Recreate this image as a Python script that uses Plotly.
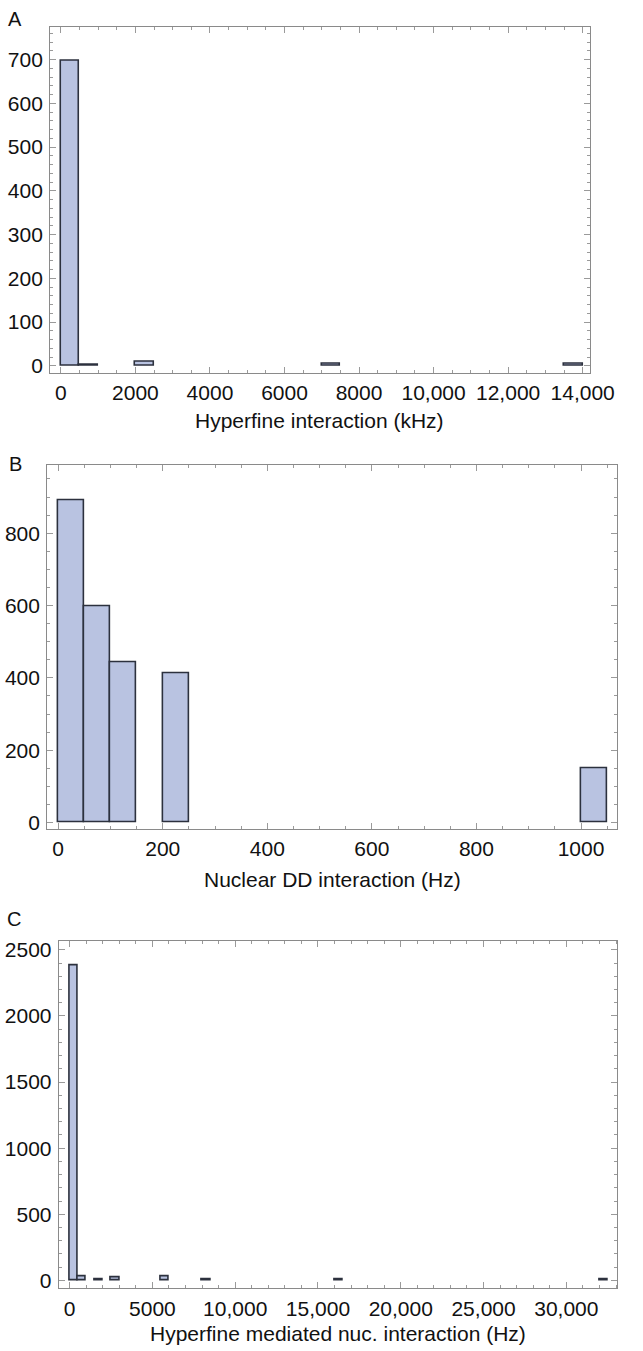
import plotly.graph_objects as go

W, H = 643, 1351

# Panel A: hyperfine interaction (kHz), 500 kHz bins
hf_bin_width = 500
hf_bin_start = [0, 500, 2000, 7000, 13500]
hf_counts = [698, 2, 8, 4, 4]
hf_xticks = [0, 2000, 4000, 6000, 8000, 10000, 12000, 14000]
hf_xticklabels = ["0", "2000", "4000", "6000", "8000", "10,000", "12,000", "14,000"]
hf_yticks = [0, 100, 200, 300, 400, 500, 600, 700]

# Panel B: nuclear dipole-dipole interaction (Hz), 50 Hz bins
dd_bin_width = 50
dd_bin_start = [0, 50, 100, 200, 1000]
dd_counts = [890, 599, 444, 413, 150]
dd_xticks = [0, 200, 400, 600, 800, 1000]
dd_yticks = [0, 200, 400, 600, 800]

# Panel C: hyperfine mediated nuclear interaction (Hz), 500 Hz bins
hm_bin_width = 500
hm_bin_start = [0, 500, 1500, 2500, 5500, 8000, 16000, 32000]
hm_counts = [2380, 30, 7, 25, 32, 7, 10, 8]
hm_xticks = [0, 5000, 10000, 15000, 20000, 25000, 30000]
hm_xticklabels = ["0", "5000", "10,000", "15,000", "20,000", "25,000", "30,000"]
hm_yticks = [0, 500, 1000, 1500, 2000, 2500]

FONT = "Liberation Sans, Arial, sans-serif"
FILL = "#b9c3e1"
EDGE = "#2c313e"
FRAME = "#8a8a8a"
TICK = "#9a9a9a"
TEXT = "#111111"
FS = 21


def px_x(p):
    return p / W


def px_y(p):
    return 1 - p / H


def make_axis(domain, rng, tickvals, ticktext, minor_dtick, standoff):
    return dict(
        domain=domain, range=rng,
        tickmode="array", tickvals=tickvals, ticktext=ticktext,
        showgrid=False, zeroline=False,
        showline=True, linecolor=FRAME, linewidth=1, mirror="ticks",
        ticks="inside", ticklen=6, tickwidth=1, tickcolor=TICK,
        minor=dict(ticks="inside", ticklen=3, tickwidth=1, tickcolor=TICK,
                   tickmode="linear", tick0=0, dtick=minor_dtick, showgrid=False),
        tickfont=dict(family=FONT, size=FS, color=TEXT),
        ticklabelstandoff=standoff,
        fixedrange=True,
    )


def centers(starts, w):
    return [s + w / 2 for s in starts]


# pixel boxes of the three frames: (left, right, top, bottom)
boxes = {
    "A": (52, 613, 24, 372),
    "B": (49, 641, 465, 831),
    "C": (61, 641, 944, 1293),
}

fig = go.Figure()

panels = [
    ("", hf_bin_start, hf_counts, hf_bin_width),
    ("2", dd_bin_start, dd_counts, dd_bin_width),
    ("3", hm_bin_start, hm_counts, hm_bin_width),
]
for suffix, starts, counts, w in panels:
    fig.add_trace(go.Bar(
        x=centers(starts, w), y=counts, width=w,
        marker=dict(color=FILL, line=dict(color=EDGE, width=1.6)),
        xaxis="x" + suffix, yaxis="y" + suffix, showlegend=False,
        hoverinfo="x+y",
    ))


def dom_x(key):
    l, r, t, b = boxes[key]
    return [px_x(l), px_x(r)]


def dom_y(key):
    l, r, t, b = boxes[key]
    return [px_y(b), px_y(t)]


layout = dict(
    width=W, height=H, margin=dict(l=0, r=0, t=0, b=0),
    paper_bgcolor="white", plot_bgcolor="white",
    font=dict(family=FONT, size=FS, color=TEXT),
    bargap=0,
)

XS, YS = 1, 2

layout["xaxis"] = make_axis(dom_x("A"), [-290, 14200], hf_xticks, hf_xticklabels, 500, XS)
layout["yaxis"] = make_axis(dom_y("A"), [-16, 775], hf_yticks, [str(v) for v in hf_yticks], 20, YS)
layout["xaxis"]["anchor"] = "y"
layout["yaxis"]["anchor"] = "x"

layout["xaxis2"] = make_axis(dom_x("B"), [-21, 1069], dd_xticks, [str(v) for v in dd_xticks], 50, XS)
layout["yaxis2"] = make_axis(dom_y("B"), [-18, 988], dd_yticks, [str(v) for v in dd_yticks], 50, YS)
layout["xaxis2"]["anchor"] = "y2"
layout["yaxis2"]["anchor"] = "x2"

layout["xaxis3"] = make_axis(dom_x("C"), [-657, 33064], hm_xticks, hm_xticklabels, 1000, XS)
layout["yaxis3"] = make_axis(dom_y("C"), [-60, 2564], hm_yticks, [str(v) for v in hm_yticks], 100, YS)
layout["xaxis3"]["anchor"] = "y3"
layout["yaxis3"]["anchor"] = "x3"

fig.update_layout(**layout)

# panel letters
for letter, (x, y) in {"A": (16, 16), "B": (16, 464), "C": (15, 921)}.items():
    fig.add_annotation(text=letter, x=px_x(x), y=px_y(y), xref="paper", yref="paper",
                       showarrow=False, xanchor="center", yanchor="middle",
                       font=dict(family=FONT, size=20, color=TEXT))

# axis titles
titles = [
    ("Hyperfine interaction (kHz)", 332, 420),
    ("Nuclear DD interaction (Hz)", 345, 882),
    ("Hyperfine mediated nuc. interaction (Hz)", 351, 1338),
]
for text, x, y in titles:
    fig.add_annotation(text=text, x=px_x(x), y=px_y(y), xref="paper", yref="paper",
                       showarrow=False, xanchor="center", yanchor="middle",
                       font=dict(family=FONT, size=FS, color=TEXT))

fig.write_html("out.html")
